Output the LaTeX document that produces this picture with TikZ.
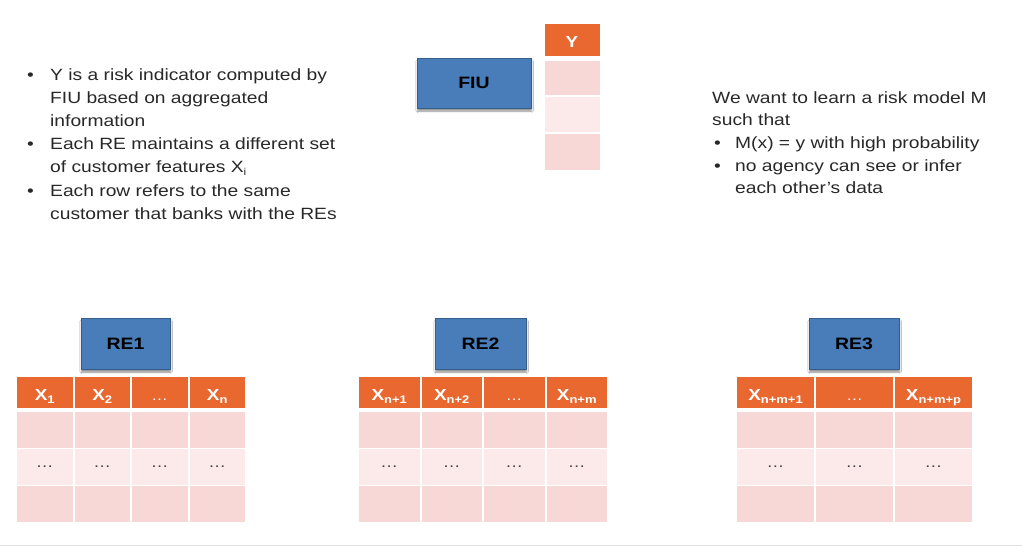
\documentclass[tikz,border=0pt]{standalone}
\usepackage{fontspec}
\setmainfont{Liberation Sans}[FakeStretch=1.18]
\usetikzlibrary{shadows,shadows.blur}
\definecolor{hdr}{RGB}{232,104,48}
\definecolor{rowa}{RGB}{247,216,214}
\definecolor{rowb}{RGB}{251,234,233}
\definecolor{blu}{RGB}{72,125,185}
\definecolor{txt}{RGB}{40,40,40}
\definecolor{dots}{RGB}{60,60,60}
\newcommand{\hdd}{{\fontsize{14}{20}\selectfont\mdseries\ldots}}
\newcommand{\sbx}[1]{\raisebox{-3.6pt}{\fontsize{11}{11}\selectfont #1}}
\tikzset{
  txtline/.style={anchor=base west, inner sep=0pt, text=txt, font=\fontsize{16.3}{20}\selectfont},
  bul/.style={anchor=base west, inner sep=0pt, text=txt, font=\fontsize{16.3}{20}\selectfont},
  bluebox/.style={fill=blu, draw=blu!75!black, line width=0.4pt, inner sep=0pt,
    blur shadow={shadow xshift=0.6pt, shadow yshift=-3pt, shadow blur radius=1.8pt, shadow opacity=45},
    font=\fontsize{16.5}{20}\selectfont\bfseries, text=black},
  hcell/.style={fill=hdr, inner sep=0pt, text=white, text height=15.6pt, text depth=0pt,
    font=\fontsize{16}{20}\selectfont\bfseries},
  rcella/.style={fill=rowa, inner sep=0pt},
  rcellb/.style={fill=rowb, inner sep=0pt, text=dots, font=\fontsize{15}{20}\selectfont},
}
\begin{document}
\begin{tikzpicture}[x=1pt,y=-1pt]
\useasboundingbox (0,0) rectangle (1022,546);
\fill[white] (0,0) rectangle (1022,546);
\draw[black!12, line width=0.8pt] (0,545) -- (1022,545);

% left bullet text
\node[bul] (lb1) at (27,80) {•};
\node[txtline] (l1) at (50,80) {Y is a risk indicator computed by};
\node[txtline] (l2) at (50,103.2) {FIU based on aggregated};
\node[txtline] (l3) at (50,126.4) {information};
\node[bul] (lb2) at (27,149.6) {•};
\node[txtline] (l4) at (50,149.6) {Each RE maintains a different set};
\node[txtline] (l5) at (50,172.8) {of customer features X\raisebox{-3pt}{\fontsize{10}{10}\selectfont i}};
\node[bul] (lb3) at (27,196) {•};
\node[txtline] (l6) at (50,196) {Each row refers to the same};
\node[txtline] (l7) at (50,219.2) {customer that banks with the REs};

% right text
\node[txtline] (r1) at (712,103) {We want to learn a risk model M};
\node[txtline] (r2) at (712,125.7) {such that};
\node[bul] (rb1) at (714,148.4) {•};
\node[txtline] (r3) at (735,148.4) {M(x) = y with high probability};
\node[bul] (rb2) at (714,171.1) {•};
\node[txtline] (r4) at (735,171.1) {no agency can see or infer};
\node[txtline] (r5) at (735,193.8) {each other’s data};

% FIU and Y column
\node[bluebox, minimum width=114pt, minimum height=50pt] (fiu) at (474,83) {FIU};
\node[hcell, minimum width=55pt, minimum height=32pt] (yh) at (572,40) {Y};
\node[rcella, minimum width=55pt, minimum height=34pt] (y1) at (572,77.5) {};
\node[rcellb, minimum width=55pt, minimum height=35pt] (y2) at (572,114.5) {};
\node[rcella, minimum width=55pt, minimum height=36pt] (y3) at (572,152) {};

% RE boxes
\node[bluebox, minimum width=89pt, minimum height=51pt] (re1) at (125.5,343.5) {RE1};
\node[bluebox, minimum width=91pt, minimum height=51pt] (re2) at (480.5,343.5) {RE2};
\node[bluebox, minimum width=90pt, minimum height=51pt] (re3) at (854,343.5) {RE3};

% tables
\newcommand{\mktable}[4]{% #1 name, #2 left x, #3 col width, #4 list of headers
  \foreach \h [count=\c] in {#4} {
    \pgfmathsetmacro{\cx}{#2+(\c-0.5)*#3}
    \node[hcell, minimum width=#3*1pt-2pt, minimum height=31pt] (#1h\c) at (\cx,392.5) {\h};
    \node[rcella, minimum width=#3*1pt-2pt, minimum height=35.5pt] (#1a\c) at (\cx,429.75) {};
    \node[rcellb, minimum width=#3*1pt-2pt, minimum height=35.5pt] (#1b\c) at (\cx,466.75) {\ldots};
    \node[rcella, minimum width=#3*1pt-2pt, minimum height=35.5pt] (#1c\c) at (\cx,503.75) {};
  }
}
\mktable{ta}{16}{57.5}{X\sbx{1}, X\sbx{2}, \hdd, X\sbx{n}}
\mktable{tb}{358}{62.5}{X\sbx{n+1}, X\sbx{n+2}, \hdd, X\sbx{n+m}}
\mktable{tc}{736}{79}{X\sbx{n+m+1}, \hdd, X\sbx{n+m+p}}
\end{tikzpicture}
\end{document}
